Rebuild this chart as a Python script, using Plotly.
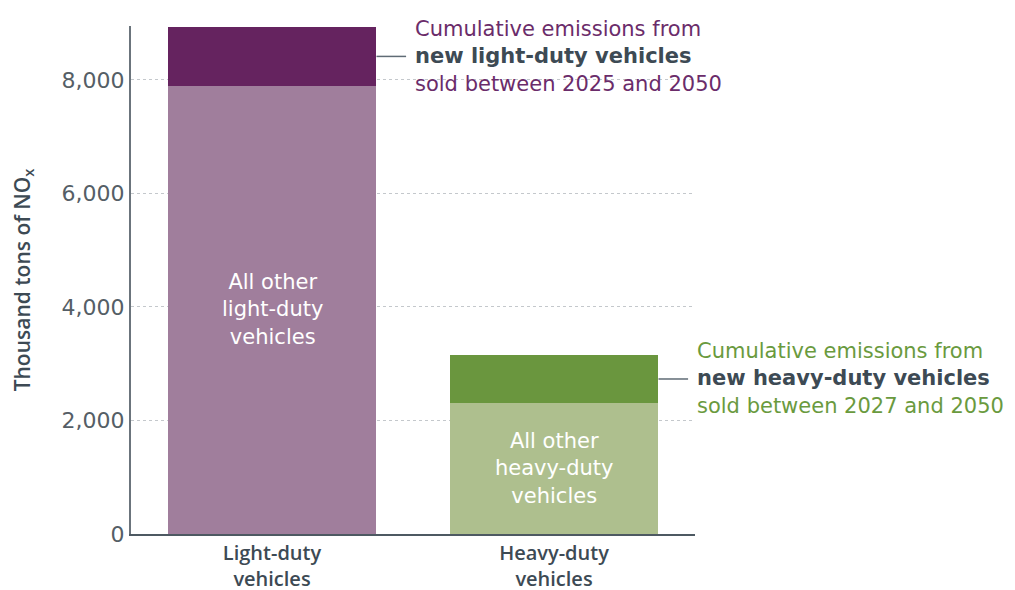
import plotly.graph_objects as go

categories = ["Light-duty<br>vehicles", "Heavy-duty<br>vehicles"]
other_values = [7894, 2308]
new_values = [1040, 846]
other_labels = ["All other<br>light-duty<br>vehicles", "All other<br>heavy-duty<br>vehicles"]
new_labels = [
    "Cumulative emissions from<br><b><span style='color:#3d4a54'>new light-duty vehicles</span></b><br>sold between 2025 and 2050",
    "Cumulative emissions from<br><b><span style='color:#3d4a54'>new heavy-duty vehicles</span></b><br>sold between 2027 and 2050",
]
tick_vals = [0, 2000, 4000, 6000, 8000]
tick_text = ["0", "2,000", "4,000", "6,000", "8,000"]

other_colors = ["#a07e9c", "#aebf8e"]
new_colors = ["#65235f", "#6a963e"]
label_colors = ["#6b2c6a", "#6a9a3e"]

FONT = "DejaVu Sans"
SEMI = "Open Sans"
fig = go.Figure()
fig.add_trace(go.Bar(x=categories, y=other_values, marker=dict(color=other_colors, line_width=0),
                     width=0.741, hoverinfo="skip"))
fig.add_trace(go.Bar(x=categories, y=new_values, marker=dict(color=new_colors, line_width=0),
                     width=0.741, hoverinfo="skip"))

annotations = []
shapes = []
for i, cat in enumerate(categories):
    annotations.append(dict(x=cat, y=other_values[i] / 2, xref="x", yref="y", text=other_labels[i],
                            showarrow=False, font=dict(family=FONT, size=21, color="white"),
                            align="center"))
    mid = other_values[i] + new_values[i] / 2
    shapes.append(dict(type="line", xref="x", yref="y", x0=i + 0.3705, x1=i + 0.3705 + 0.105,
                       y0=mid, y1=mid, line=dict(color="#5f6b75", width=1.5)))
    annotations.append(dict(x=i + 0.3705 + 0.105, y=mid, xref="x", yref="y", text=new_labels[i],
                            showarrow=False, xanchor="left", yanchor="middle", xshift=7,
                            font=dict(family=FONT, size=21, color=label_colors[i]), align="left"))

# the page body has an 8px margin, so the figure is sized/offset to compensate
fig.update_layout(
    barmode="stack",
    bargap=0.259,
    showlegend=False,
    width=1007, height=582,
    margin=dict(l=123, r=320, t=18, b=56),
    plot_bgcolor="white", paper_bgcolor="white",
    font=dict(family=FONT, color="#3d4a54"),
    annotations=annotations,
    shapes=shapes,
    xaxis=dict(range=[-0.5, 1.5], showline=True, linecolor="#4d5962", linewidth=2,
               tickfont=dict(family=SEMI, size=20, color="#3d4a54", weight=600), ticks="",
               showgrid=False, automargin=False),
    yaxis=dict(range=[0, 8950], tickvals=tick_vals, ticktext=tick_text, showline=True,
               linecolor="#6b747c", linewidth=2, ticks="",
               tickfont=dict(family=FONT, size=22, color="#555e66"),
               showgrid=True, gridcolor="#c4c8cc", griddash="dot", gridwidth=1,
               zeroline=False, automargin=False,
               title=dict(text="Thousand tons of NO<sub>x</sub>", standoff=26,
                          font=dict(family=SEMI, size=21, color="#3d4a54", weight=600))),
)
fig.write_html("out.html")
